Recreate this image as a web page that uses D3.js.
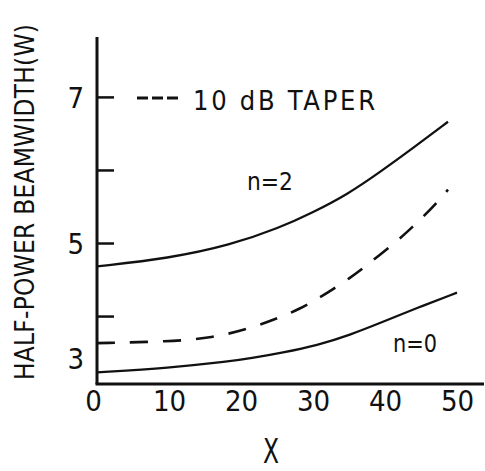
<!DOCTYPE html>
<html>
<head>
<meta charset="utf-8">
<script src="https://cdn.jsdelivr.net/npm/d3@7"></script>
<style>
  html, body { margin: 0; padding: 0; background: #fff; }
  svg { display: block; }
  text { font-family: "Liberation Sans Narrow", "DejaVu Sans Condensed", "Liberation Sans", sans-serif; fill: #111; }
</style>
</head>
<body>
<svg id="chart" width="485" height="471"></svg>
<script>
// Half-power beamwidth versus X for two aperture distributions and a 10 dB taper
const xN2   = [0, 10, 18.5, 25.4, 30, 34.7, 39.3, 43.9, 48.75];
const yN2   = [4.68, 4.79, 4.97, 5.21, 5.42, 5.66, 5.97, 6.30, 6.66];

const xTaper = [0, 10, 16, 21.25, 25.4, 28.2, 30.7, 32.8, 35.1, 36.9, 39.3, 41.7, 43.5, 45, 47.2, 48.75];
const yTaper = [3.63, 3.65, 3.70, 3.83, 3.98, 4.10, 4.24, 4.37, 4.52, 4.65, 4.84, 5.03, 5.19, 5.33, 5.55, 5.73];

const xN0   = [0, 10, 18.5, 21.25, 25.8, 30.6, 35.1, 39.7, 44.4, 50];
const yN0   = [3.23, 3.29, 3.38, 3.42, 3.50, 3.60, 3.74, 3.92, 4.11, 4.32];

const xTickValues = [0, 10, 20, 30, 40, 50];
const yTickMarks  = [4, 5, 6, 7];
const yTickLabels = ["7", "5", "3"];

const xExtent = [0, 53.75];
const yExtent = [3.07, 7.82];

const svg = d3.select("#chart");
const ink = "#111";

const x = d3.scaleLinear().domain(xExtent).range([97, 484]);
const y = d3.scaleLinear().domain(yExtent).range([384, 37]);

// axes
const axisG = svg.append("g");
axisG.append("line")
  .attr("x1", x(0)).attr("x2", x(0))
  .attr("y1", y(yExtent[1])).attr("y2", y(yExtent[0]))
  .attr("stroke", ink).attr("stroke-width", 3);
axisG.append("line")
  .attr("x1", x(0) - 1.5).attr("x2", x(xExtent[1]))
  .attr("y1", y(yExtent[0])).attr("y2", y(yExtent[0]))
  .attr("stroke", ink).attr("stroke-width", 3);

// y ticks point into the plot
const yAxis = d3.axisRight(y).tickValues(yTickMarks).tickSize(17).tickFormat("");
const yAxisG = svg.append("g").attr("transform", `translate(${x(0)},0)`).call(yAxis);
yAxisG.select(".domain").remove();
yAxisG.selectAll(".tick line").attr("stroke", ink).attr("stroke-width", 2.5);

// y tick labels (the "3" sits just above the baseline of the plot)
svg.append("g").selectAll("text")
  .data(yTickLabels)
  .join("text")
  .attr("x", 84)
  .attr("y", d => {
    const v = +d;
    const base = v === 3 ? y(3.42) : y(v);
    return base + 11;
  })
  .attr("text-anchor", "end")
  .attr("font-size", 29)
  .text(d => d);

// x tick labels
const xAxis = d3.axisBottom(x).tickValues(xTickValues).tickSize(0).tickPadding(10).tickFormat(d3.format("d"));
const xAxisG = svg.append("g").attr("transform", `translate(0,${y(yExtent[0])})`).call(xAxis);
xAxisG.select(".domain").remove();
xAxisG.selectAll(".tick text")
  .attr("font-size", 29)
  .attr("fill", ink)
  .attr("font-family", "Liberation Sans Narrow, DejaVu Sans Condensed, sans-serif")
  .attr("dx", d => d === 0 ? -4 : 0)
  .attr("dy", "0.6em");

// curves
const line = d3.line().x(d => x(d[0])).y(d => y(d[1])).curve(d3.curveBasis);

svg.append("path")
  .datum(d3.zip(xN2, yN2))
  .attr("d", line)
  .attr("fill", "none").attr("stroke", ink).attr("stroke-width", 2.3);

svg.append("path")
  .datum(d3.zip(xTaper, yTaper))
  .attr("d", line)
  .attr("fill", "none").attr("stroke", ink).attr("stroke-width", 2.6)
  .attr("stroke-dasharray", "18,15");

svg.append("path")
  .datum(d3.zip(xN0, yN0))
  .attr("d", line)
  .attr("fill", "none").attr("stroke", ink).attr("stroke-width", 2.3);

// legend
svg.append("line")
  .attr("x1", 137).attr("x2", 178)
  .attr("y1", 98).attr("y2", 98)
  .attr("stroke", ink).attr("stroke-width", 3.2)
  .attr("stroke-dasharray", "11,4");
svg.append("text")
  .attr("x", 193).attr("y", 110)
  .attr("font-size", 27)
  .attr("textLength", 182).attr("lengthAdjust", "spacing")
  .text("10 dB TAPER");

// curve labels
svg.append("text")
  .attr("x", 247).attr("y", 190)
  .attr("font-size", 25)
  .attr("textLength", 46).attr("lengthAdjust", "spacingAndGlyphs")
  .text("n=2");
svg.append("text")
  .attr("x", 393).attr("y", 352)
  .attr("font-size", 25)
  .attr("textLength", 44).attr("lengthAdjust", "spacingAndGlyphs")
  .text("n=0");

// axis titles
svg.append("text")
  .attr("x", 271).attr("y", 463)
  .attr("text-anchor", "middle")
  .attr("font-size", 34)
  .attr("textLength", 16).attr("lengthAdjust", "spacingAndGlyphs")
  .text("X");

svg.append("text")
  .attr("transform", "translate(34,202) rotate(-90)")
  .attr("text-anchor", "middle")
  .attr("font-size", 26)
  .attr("textLength", 356).attr("lengthAdjust", "spacing")
  .text("HALF-POWER BEAMWIDTH(W)");
</script>
</body>
</html>
